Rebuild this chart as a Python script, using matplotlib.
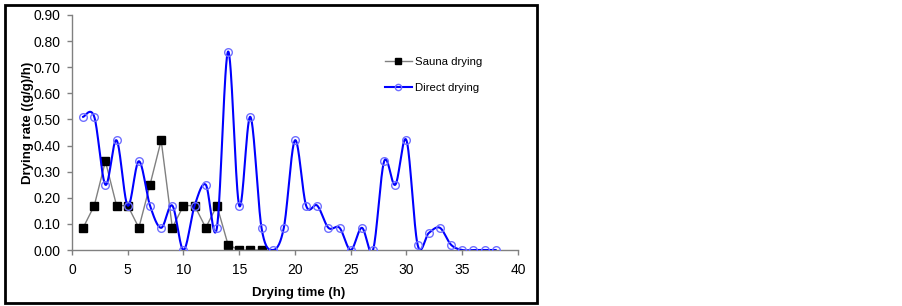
import numpy as np
import matplotlib
matplotlib.use("Agg")
import matplotlib.pyplot as plt
from matplotlib.patches import Rectangle
from matplotlib.lines import Line2D

plt.rcParams['font.family'] = ['Liberation Sans', 'DejaVu Sans']

sauna_x = list(range(1, 18))
sauna_y = [0.085, 0.17, 0.34, 0.17, 0.17, 0.085, 0.25, 0.42, 0.085, 0.17,
           0.17, 0.085, 0.17, 0.02, 0.0, 0.0, 0.0]
direct_x = list(range(1, 39))
direct_y = [0.51, 0.51, 0.25, 0.42, 0.17, 0.34, 0.17, 0.085, 0.17, 0.0,
            0.17, 0.25, 0.085, 0.76, 0.17, 0.51, 0.085, 0.0, 0.085, 0.42,
            0.17, 0.17, 0.085, 0.085, 0.0, 0.085, 0.0, 0.34, 0.25, 0.42,
            0.02, 0.065, 0.085, 0.02, 0.0, 0.0, 0.0, 0.0]
x_ticks = [0, 5, 10, 15, 20, 25, 30, 35, 40]
y_ticks = [0.0, 0.1, 0.2, 0.3, 0.4, 0.5, 0.6, 0.7, 0.8, 0.9]

fig = plt.figure(figsize=(9.03, 3.06), dpi=100)
ax = fig.add_axes([0.0797, 0.183, 0.4939, 0.768])
ax.set_xlim(0, 40)
ax.set_ylim(0, 0.9)


def smooth(xs, ys, ax, n=30):
    # Excel-like smoothed line: cubic Bezier with Catmull-Rom control points in display space
    pts = ax.transData.transform(np.column_stack([xs, ys]))
    out = [pts[0]]
    m = len(pts)
    for i in range(m - 1):
        p0 = pts[i - 1] if i > 0 else pts[i]
        p1 = pts[i]
        p2 = pts[i + 1]
        p3 = pts[i + 2] if i + 2 < m else pts[i + 1]
        c1 = p1 + (p2 - p0) / 6.0
        c2 = p2 - (p3 - p1) / 6.0
        t = np.linspace(0, 1, n)[1:, None]
        seg = ((1 - t) ** 3) * p1 + 3 * ((1 - t) ** 2) * t * c1 + 3 * (1 - t) * t ** 2 * c2 + t ** 3 * p2
        out.extend(seg)
    out = np.array(out)
    return ax.transData.inverted().transform(out)


curve = smooth(direct_x, direct_y, ax)
ax.plot(curve[:, 0], curve[:, 1], color='#0000ff', lw=1.5, zorder=3)
ax.plot(direct_x, direct_y, ls='none', marker='o', ms=5.5, mfc='none',
        mec='#6f6fff', mew=1.0, zorder=4)
ax.plot(sauna_x, sauna_y, color='#808080', lw=1.0, marker='s', ms=5.2,
        mfc='black', mec='black', zorder=2)

# legend (manual proxies)
h1 = Line2D([], [], color='#808080', lw=1.0, marker='s', ms=4.5, mfc='black', mec='black')
h2 = Line2D([], [], color='#0000ff', lw=1.5, marker='o', ms=4.5, mfc='none', mec='#6f6fff')
ax.legend([h1, h2], ['Sauna drying', 'Direct drying'], loc='upper left',
          bbox_to_anchor=(0.678, 0.865), frameon=False, fontsize=8.2,
          handlelength=2.4, labelspacing=1.45, handletextpad=0.25)

ax.set_xticks(x_ticks)
ax.set_yticks(y_ticks)
ax.set_yticklabels([f"{v:.2f}" for v in y_ticks])
ax.tick_params(axis='both', direction='out', length=3.5, color='#808080',
               labelsize=10, width=1)
ax.tick_params(axis='x', pad=6)
ax.tick_params(axis='y', pad=5)
for s in ['top', 'right']:
    ax.spines[s].set_visible(False)
for s in ['left', 'bottom']:
    ax.spines[s].set_color('#808080')
    ax.spines[s].set_linewidth(1)

ax.set_xlabel('Drying time (h)', fontsize=9.5, fontweight='bold')
ax.set_ylabel('Drying rate ((g/g)/h)', fontsize=9.5, fontweight='bold')
ax.xaxis.set_label_coords(0.509, -0.158)
ax.yaxis.set_label_coords(-0.085, 0.54)

rect = Rectangle((5 / 903, 1 - 303 / 306), 532 / 903, 298 / 306,
                 transform=fig.transFigure, fill=False, ec='black', lw=2)
fig.patches.append(rect)

fig.savefig('out.png', dpi=100)
